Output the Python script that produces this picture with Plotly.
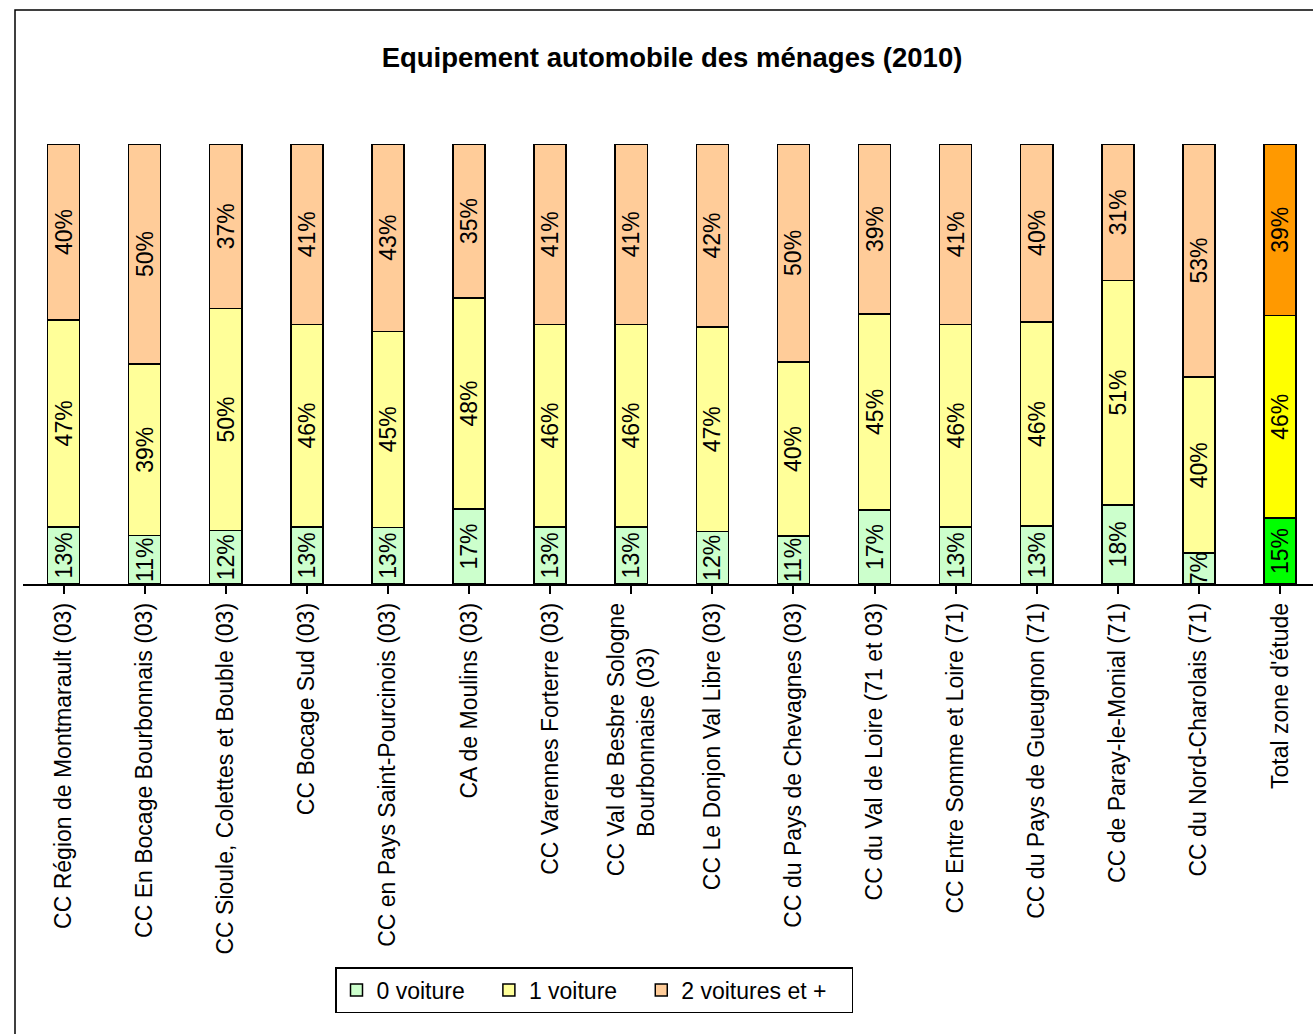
import plotly.graph_objects as go

NBSP = "\u00a0"
categories = [
    "CC Région de Montmarault (03)",
    "CC En Bocage Bourbonnais (03)",
    "CC Sioule, Colettes et Bouble (03)",
    "CC Bocage Sud (03)",
    "CC en Pays Saint-Pourcinois (03)",
    "CA de Moulins (03)",
    "CC Varennes Forterre (03)",
    "CC Val de Besbre Sologne<br>Bourbonnaise (03)" + NBSP * 7,
    "CC Le Donjon Val Libre (03)",
    "CC du Pays de Chevagnes (03)",
    "CC du Val de Loire (71 et 03)",
    "CC Entre Somme et Loire (71)",
    "CC du Pays de Gueugnon (71)",
    "CC de Paray-le-Monial (71)",
    "CC du Nord-Charolais (71)",
    "Total zone d'étude",
]
zero_car = [13, 11, 12, 13, 13, 17, 13, 13, 12, 11, 17, 13, 13, 18, 7, 15]
one_car = [47, 39, 50, 46, 45, 48, 46, 46, 47, 40, 45, 46, 46, 51, 40, 46]
two_plus = [40, 50, 37, 41, 43, 35, 41, 41, 42, 50, 39, 41, 40, 31, 53, 39]

series = [
    ("0 voiture", zero_car, "#CCFFCC", "#00FF00"),
    ("1 voiture", one_car, "#FFFF99", "#FFFF00"),
    ("2 voitures et +", two_plus, "#FFCC99", "#FF9900"),
]

FONT = "Liberation Sans, Arial, sans-serif"
W, H = 1313, 1034
L, R, T, B = 23, 0, 144, 450

fig = go.Figure()
n = len(categories)
for name, vals, col, total_col in series:
    colors = [col] * (n - 1) + [total_col]
    fig.add_trace(go.Bar(
        name=name + NBSP * 3,
        x=list(range(n)),
        y=vals,
        text=[f"{v}%" for v in vals],
        textposition="inside",
        insidetextanchor="middle",
        textangle=-90,
        constraintext="none",
        textfont=dict(family=FONT, size=23, color="black"),
        marker=dict(color=colors, line=dict(color="black", width=1.5)),
        width=0.395,
        hoverinfo="skip",
    ))

fig.update_layout(
    width=W, height=H,
    barmode="stack",
    barnorm="percent",
    plot_bgcolor="white",
    paper_bgcolor="white",
    margin=dict(l=L, r=R, t=T, b=B, pad=0),
    font=dict(family=FONT, color="black"),
    title=dict(
        text="<b>Equipement automobile des ménages (2010)</b>",
        font=dict(family=FONT, size=27.5, color="black"),
        x=672 / W, xanchor="center",
        y=1 - 57 / H, yanchor="middle", yref="container",
    ),
    showlegend=True,
    legend=dict(
        orientation="h",
        x=(594 - L) / (W - L - R), xanchor="center",
        y=(584 - 990) / (H - T - B), yanchor="middle",
        bordercolor="black", borderwidth=1.5,
        bgcolor="white",
        font=dict(family=FONT, size=23, color="black"),
        traceorder="normal",
        itemwidth=30,
    ),
)

fig.update_xaxes(
    tickmode="array",
    tickvals=list(range(n)),
    ticktext=categories,
    tickangle=-90,
    tickfont=dict(family=FONT, size=23, color="black"),
    range=[-0.5, -0.5 + (W - L - R) / 81.1],
    showline=True, linecolor="black", linewidth=1.5,
    ticks="outside", ticklen=8, tickwidth=1.5, tickcolor="black",
    tickson="boundaries",
    showgrid=False, zeroline=False,
)
fig.update_yaxes(
    range=[0, 100],
    visible=False,
    showgrid=False,
)

# Outer chart frame
plot_w = W - L - R
plot_h = H - T - B
fig.add_shape(
    type="rect", xref="paper", yref="paper",
    x0=(15 - L) / plot_w, x1=(W + 20 - L) / plot_w,
    y0=(584 - (H + 20)) / plot_h, y1=(584 - 10) / plot_h,
    line=dict(color="black", width=1.5), fillcolor="rgba(0,0,0,0)",
    layer="below",
)

fig.write_html("out.html")
